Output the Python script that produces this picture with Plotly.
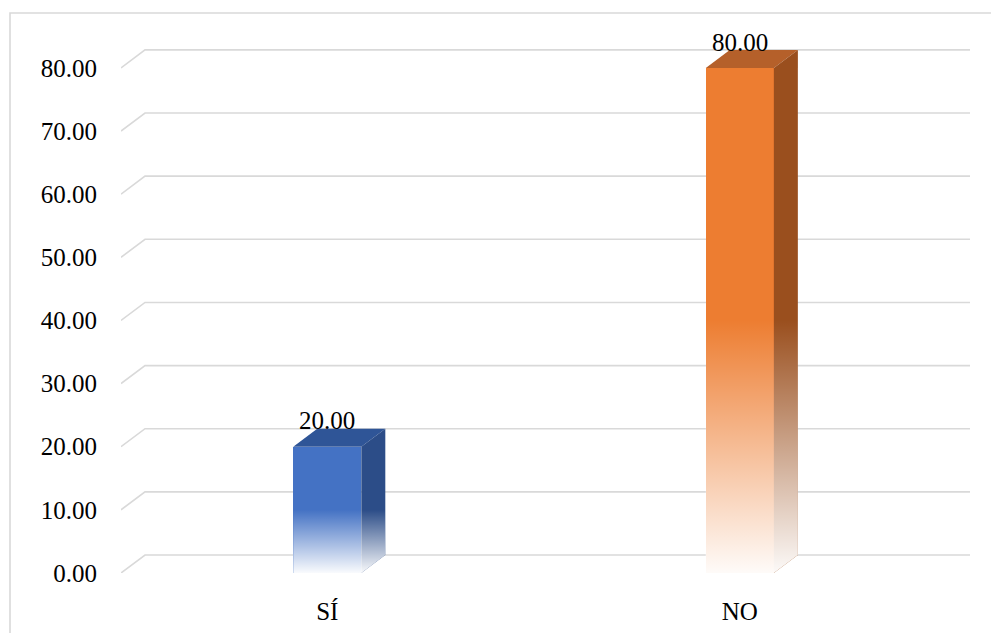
import plotly.graph_objects as go

categories = ["SÍ", "NO"]
values = [20.00, 80.00]
y_ticks = [0, 10, 20, 30, 40, 50, 60, 70, 80]
y_ticklabels = [f"{v:.2f}" for v in y_ticks]

front_colors = ["#4472C4", "#ED7D31"]
top_colors = ["#2F5597", "#B5602A"]
side_colors = ["#2C4D88", "#9A4F1E"]

FONT = "Liberation Serif"
W, H = 999, 633
OFF = 8  # page body margin
ML, MR, MT, MB = 121 - OFF, 29 + OFF, 30 - OFF, 60 + OFF
XR = [-0.5, 1.558]
YR = [0, 86]
DX = 0.0582   # depth offset (x units)
DY = 2.85     # depth offset (y units)
BW = 0.165    # bar width

xs = list(range(len(categories)))
fig = go.Figure()

# front faces (bars)
fig.add_trace(go.Bar(x=xs, y=values, width=BW, marker=dict(color=front_colors, line=dict(width=0)),
                     hoverinfo="skip", showlegend=False))

for i, v in enumerate(values):
    x0, x1 = xs[i] - BW / 2, xs[i] + BW / 2
    # top face
    fig.add_trace(go.Scatter(x=[x0, x1, x1 + DX, x0 + DX, x0], y=[v, v, v + DY, v + DY, v],
                             fill="toself", fillcolor=top_colors[i], mode="lines",
                             line=dict(width=0), hoverinfo="skip", showlegend=False))
    # side face
    fig.add_trace(go.Scatter(x=[x1, x1, x1 + DX, x1 + DX, x1], y=[0, v, v + DY, DY, 0],
                             fill="toself", fillcolor=side_colors[i], mode="lines",
                             line=dict(width=0), hoverinfo="skip", showlegend=False))
    # fade to white on the lower half
    h = v * 0.5
    fig.add_trace(go.Scatter(x=[x0, x1, x1 + DX, x1 + DX, x1, x0, x0],
                             y=[0, 0, DY, h + DY, h, h, 0],
                             fill="toself", mode="lines", line=dict(width=0),
                             fillgradient=dict(type="vertical", start=0, stop=h,
                                               colorscale=[[0, "rgba(255,255,255,0.97)"],
                                                           [1, "rgba(255,255,255,0)"]]),
                             hoverinfo="skip", showlegend=False))

shapes = []
# 3D gridlines (below traces)
for t in y_ticks:
    shapes.append(dict(type="path", xref="x", yref="y", layer="below",
                       path=f"M {XR[0]},{t} L {XR[0] + DX},{t + DY} L {XR[1]},{t + DY}",
                       line=dict(color="#D9D9D9", width=1.6)))
# outer border
pw, ph = W - ML - MR, H - MT - MB
shapes.append(dict(type="rect", xref="paper", yref="paper",
                   x0=(10 - OFF - ML) / pw, x1=1.3,
                   y0=-0.3, y1=(H - MB - (13 - OFF)) / ph,
                   line=dict(color="#D9D9D9", width=1.6), fillcolor="rgba(0,0,0,0)", layer="below"))

annotations = [dict(x=xs[i], y=v + 4.1, xref="x", yref="y", text=f"{v:.2f}", showarrow=False,
                    font=dict(family=FONT, size=25, color="#000000"), xanchor="center", yanchor="middle")
               for i, v in enumerate(values)]

fig.update_layout(
    width=W, height=H, margin=dict(l=ML, r=MR, t=MT, b=MB),
    paper_bgcolor="white", plot_bgcolor="white",
    showlegend=False, bargap=0,
    font=dict(family=FONT, size=25, color="#000000"),
    shapes=shapes, annotations=annotations,
    xaxis=dict(range=XR, tickvals=xs, ticktext=categories, showgrid=False, zeroline=False,
               showline=False, ticks="outside", ticklen=16, tickcolor="rgba(0,0,0,0)",
               tickfont=dict(family=FONT, size=25, color="#000000"), fixedrange=True),
    yaxis=dict(range=YR, tickvals=y_ticks, ticktext=y_ticklabels, showgrid=False, zeroline=False,
               showline=False, ticks="outside", ticklen=18, tickcolor="rgba(0,0,0,0)",
               tickfont=dict(family=FONT, size=25, color="#000000"), fixedrange=True),
)

fig.write_html("out.html")
